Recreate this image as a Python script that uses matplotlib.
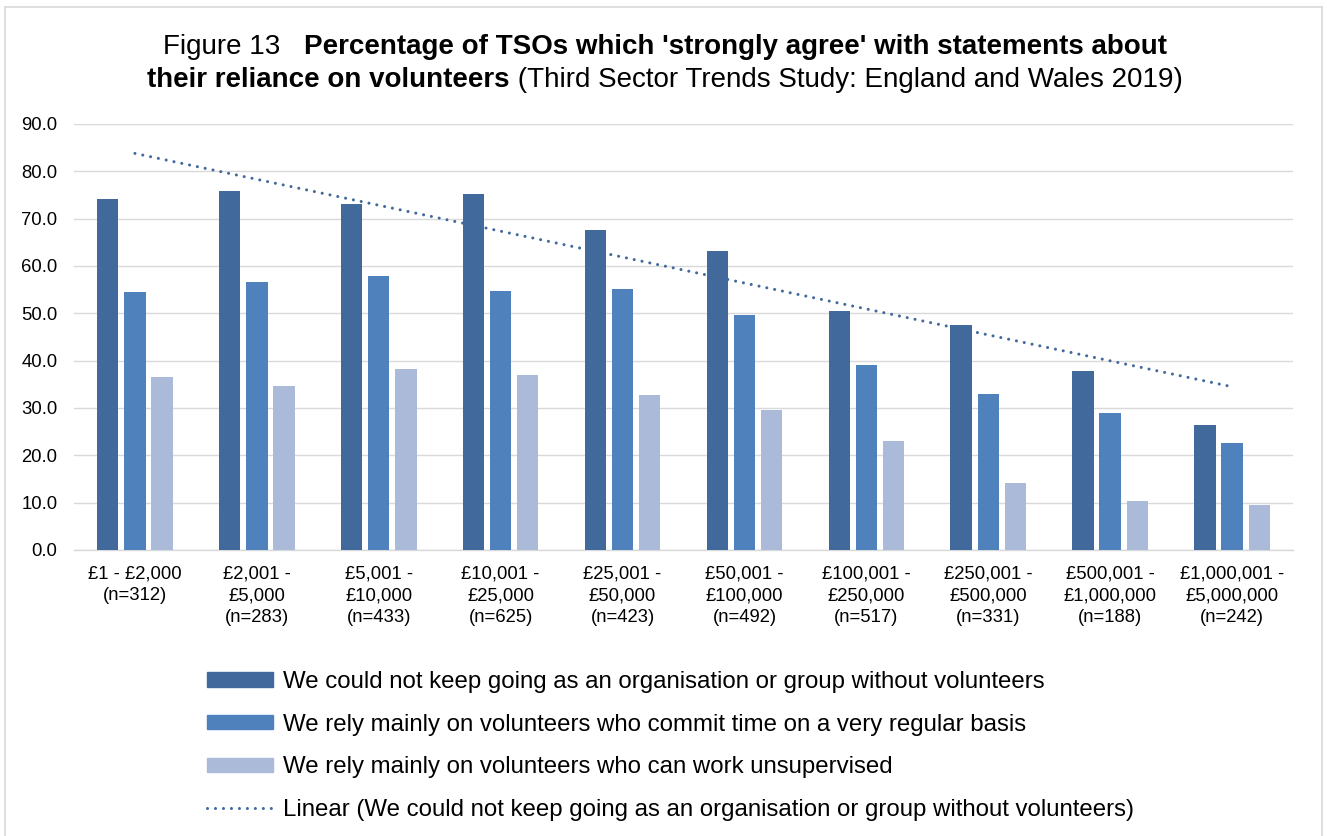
import matplotlib
matplotlib.use("Agg")
import matplotlib.pyplot as plt
import numpy as np
from matplotlib.lines import Line2D
from matplotlib.patches import Patch

plt.rcParams["font.family"] = ["Liberation Sans", "DejaVu Sans"]

# Income bands and sample sizes
bands = [
    "£1 - £2,000\n(n=312)",
    "£2,001 -\n£5,000\n(n=283)",
    "£5,001 -\n£10,000\n(n=433)",
    "£10,001 -\n£25,000\n(n=625)",
    "£25,001 -\n£50,000\n(n=423)",
    "£50,001 -\n£100,000\n(n=492)",
    "£100,001 -\n£250,000\n(n=517)",
    "£250,001 -\n£500,000\n(n=331)",
    "£500,001 -\n£1,000,000\n(n=188)",
    "£1,000,001 -\n£5,000,000\n(n=242)",
]

# % strongly agreeing with each statement
cannot_keep_going = [74.2, 75.9, 73.2, 75.2, 67.6, 63.1, 50.4, 47.6, 37.8, 26.4]
regular_basis = [54.6, 56.7, 57.9, 54.7, 55.1, 49.6, 39.0, 33.0, 28.9, 22.7]
unsupervised = [36.6, 34.7, 38.3, 37.0, 32.7, 29.5, 23.1, 14.1, 10.3, 9.5]

series_labels = [
    "We could not keep going as an organisation or group without volunteers",
    "We rely mainly on volunteers who commit time on a very regular basis",
    "We rely mainly on volunteers who can work unsupervised",
]
trend_label = "Linear (We could not keep going as an organisation or group without volunteers)"

colors = ["#41699B", "#4F81BD", "#AABAD8"]
grid_color = "#D9D9D9"

W, H = 1327, 836
fig = plt.figure(figsize=(W / 100, H / 100), dpi=100)
ax = fig.add_axes([74 / W, 1 - 550 / H, (1293 - 74) / W, (550 - 124) / H])

x = np.arange(len(bands))
step = 0.223
width = 0.175
for i, (vals, c) in enumerate(zip([cannot_keep_going, regular_basis, unsupervised], colors)):
    ax.bar(x + (i - 1) * step, vals, width=width, color=c, zorder=3)

# linear trend of the first series
coef = np.polyfit(x, cannot_keep_going, 1)
ax.plot(x, np.polyval(coef, x), color=colors[0], lw=2.2,
        linestyle=(0, (0.01, 2.6)), dash_capstyle="round", zorder=4)

tick_size = 13.3
ax.set_xlim(-0.5, len(bands) - 0.5)
ax.set_ylim(0, 90)
ax.set_yticks(np.arange(0, 91, 10))
ax.set_yticklabels([f"{v:.1f}" for v in np.arange(0, 91, 10)], fontsize=tick_size)
ax.set_xticks(x)
ax.set_xticklabels(bands, fontsize=tick_size, linespacing=1.37, va="top")
ax.tick_params(axis="both", length=0, colors="#000000")
ax.tick_params(axis="y", pad=12)
ax.tick_params(axis="x", pad=11)
ax.grid(axis="y", color=grid_color, lw=1.0, zorder=0)
for side in ["top", "right", "left"]:
    ax.spines[side].set_visible(False)
ax.spines["bottom"].set_color(grid_color)
ax.spines["bottom"].set_linewidth(1.0)
ax.spines["bottom"].set_zorder(2)

# chart frame
frame = dict(color=grid_color, lw=1.2, transform=fig.transFigure)
fig.add_artist(Line2D([5 / W, 5 / W], [0, 1 - 7 / H], **frame))
fig.add_artist(Line2D([5 / W, 1322 / W], [1 - 7 / H, 1 - 7 / H], **frame))
fig.add_artist(Line2D([1322 / W, 1322 / W], [0, 1 - 7 / H], **frame))

# title built from normal and bold runs, each line centred
title_lines = [
    [("Figure 13   ", "normal"),
     ("Percentage of TSOs which 'strongly agree' with statements about", "bold")],
    [("their reliance on volunteers", "bold"),
     (" (Third Sector Trends Study: England and Wales 2019)", "normal")],
]
title_size = 20
title_y = [1 - 47 / H, 1 - 80 / H]
renderer = fig.canvas.get_renderer()
for runs, y in zip(title_lines, title_y):
    texts = [fig.text(0, y, s, fontsize=title_size, fontweight=w, va="center", ha="left")
             for s, w in runs]
    widths = [t.get_window_extent(renderer).width for t in texts]
    left = (665 - sum(widths) / 2) / W
    for t, w in zip(texts, widths):
        t.set_x(left)
        left += w / W

handles = [Patch(color=c) for c in colors]
handles.append(Line2D([], [], color=colors[0], lw=2.2, linestyle=(0, (0.01, 2.6)),
                      dash_capstyle="round"))
fig.legend(handles, series_labels + [trend_label], loc="upper left",
           bbox_to_anchor=(207 / W, 1 - 671 / H), frameon=False, fontsize=17.3,
           handlelength=2.75, handleheight=0.54, handletextpad=0.42,
           labelspacing=0.86, borderpad=0, borderaxespad=0)

fig.savefig("out.png", dpi=100)
